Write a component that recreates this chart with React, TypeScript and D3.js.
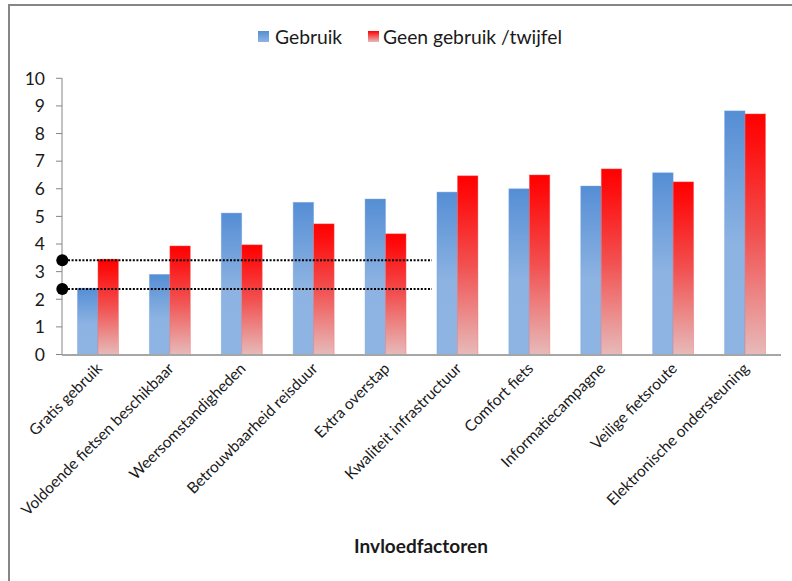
import React from "react";
import * as d3 from "d3";

const categories = [
  "Gratis gebruik",
  "Voldoende fietsen beschikbaar",
  "Weersomstandigheden",
  "Betrouwbaarheid reisduur",
  "Extra overstap",
  "Kwaliteit infrastructuur",
  "Comfort fiets",
  "Informatiecampagne",
  "Veilige fietsroute",
  "Elektronische ondersteuning",
];
const seriesNames = ["Gebruik", "Geen gebruik /twijfel"];
const gebruik = [2.4, 2.9, 5.12, 5.51, 5.63, 5.88, 6.0, 6.1, 6.58, 8.82];
const geenGebruik = [3.45, 3.93, 3.97, 4.73, 4.37, 6.47, 6.5, 6.72, 6.25, 8.71];
const yTicks = [0, 1, 2, 3, 4, 5, 6, 7, 8, 9, 10];
const referenceLevels = [3.41, 2.37];
const axisTitle = "Invloedfactoren";

const W = 792;
const H = 581;
const FONT = "Lato, 'Open Sans', sans-serif";

export default function App() {
  const x = d3
    .scaleBand<string>()
    .domain(categories)
    .range([62, 781])
    .paddingInner(0.43)
    .paddingOuter(0.215);
  const xs = d3.scaleBand<string>().domain(seriesNames).range([0, x.bandwidth()]);
  const y = d3.scaleLinear().domain([0, 10]).range([354.5, 78.3]);
  const series = [gebruik, geenGebruik];
  const fills = ["url(#gBlue)", "url(#gRed)"];
  const y0 = y(0);

  return (
    <svg
      width={W}
      height={H}
      style={{ position: "absolute", left: 0, top: 0, background: "#fff" }}
      fontFamily={FONT}
    >
      <defs>
        <linearGradient id="gBlue" x1="0" y1="0" x2="0" y2="1">
          <stop offset="0" stopColor="#558ED5" />
          <stop offset="0.55" stopColor="#8DB3E2" />
          <stop offset="1" stopColor="#8EB4E3" />
        </linearGradient>
        <linearGradient id="gRed" x1="0" y1="0" x2="0" y2="1">
          <stop offset="0" stopColor="#FF0000" />
          <stop offset="0.12" stopColor="#FD1010" />
          <stop offset="0.5" stopColor="#F25050" />
          <stop offset="1" stopColor="#E6BAB9" />
        </linearGradient>
        <linearGradient id="lBlue" x1="0" y1="0" x2="0" y2="1">
          <stop offset="0" stopColor="#558ED5" />
          <stop offset="1" stopColor="#8EB4E3" />
        </linearGradient>
        <linearGradient id="lRed" x1="0" y1="0" x2="0" y2="1">
          <stop offset="0" stopColor="#FF0000" />
          <stop offset="1" stopColor="#E6BAB9" />
        </linearGradient>
        <filter id="blur" x="-5%" y="-200%" width="110%" height="500%">
          <feGaussianBlur stdDeviation="1.6" />
        </filter>
      </defs>

      {/* frame */}
      <line x1={8} x2={W} y1={5} y2={5} stroke="#868686" strokeWidth={2} />
      <line x1={9} x2={9} y1={4} y2={H} stroke="#868686" strokeWidth={2} />

      {/* legend */}
      <g fontSize={19.3} fill="#1a1a1a">
        <rect x={258} y={31} width={11} height={11} fill="url(#lBlue)" />
        <text x={275} y={43.5}>{seriesNames[0]}</text>
        <rect x={368} y={31} width={11} height={11} fill="url(#lRed)" />
        <text x={383} y={43.5}>{seriesNames[1]}</text>
      </g>

      {/* bars */}
      {categories.map((c, i) => (
        <g key={c}>
          {series.map((s, j) => {
            const bx = (x(c) as number) + (xs(seriesNames[j]) as number);
            const by = y(s[i]);
            return (
              <rect
                key={j}
                x={bx}
                y={by}
                width={xs.bandwidth()}
                height={y0 - by}
                fill={fills[j]}
                stroke={j === 0 ? "#7aa6dd" : "#f06b6b"}
                strokeOpacity={0.5}
                strokeWidth={0.8}
              />
            );
          })}
        </g>
      ))}

      {/* y axis */}
      <line x1={62} x2={62} y1={y(10)} y2={y0} stroke="#868686" strokeWidth={1} />
      {yTicks.map((t) => (
        <g key={t}>
          <line x1={56} x2={62} y1={y(t)} y2={y(t)} stroke="#868686" strokeWidth={1} />
          <text
            x={45}
            y={y(t)}
            dy="0.36em"
            textAnchor="end"
            fontSize={17.5}
            fill="#1a1a1a"
          >
            {t}
          </text>
        </g>
      ))}
      {/* x axis */}
      <line x1={62} x2={781} y1={y0 + 0.5} y2={y0 + 0.5} stroke="#a6a6a6" strokeWidth={2} />

      {/* x labels */}
      {categories.map((c) => {
        const cx = (x(c) as number) + x.bandwidth() / 2;
        return (
          <text
            key={c}
            transform={`translate(${cx + 5},${y0 + 15}) rotate(-45)`}
            textAnchor="end"
            fontSize={15.5}
            fill="#1a1a1a"
          >
            {c}
          </text>
        );
      })}

      {/* axis title */}
      <text x={421} y={553} textAnchor="middle" fontSize={19} fontWeight="bold" fill="#1a1a1a">
        {axisTitle}
      </text>

      {/* reference lines */}
      {referenceLevels.map((v, k) => (
        <g key={k}>
          <line
            x1={68}
            x2={432}
            y1={y(v) + 3}
            y2={y(v) + 3}
            stroke="#000"
            strokeOpacity={0.28}
            strokeWidth={3}
            filter="url(#blur)"
          />
          <line
            x1={68}
            x2={432}
            y1={y(v)}
            y2={y(v)}
            stroke="#000"
            strokeWidth={2}
            strokeDasharray="2 1.6"
          />
          <circle cx={62.3} cy={y(v)} r={6} fill="#000" />
        </g>
      ))}
    </svg>
  );
}
